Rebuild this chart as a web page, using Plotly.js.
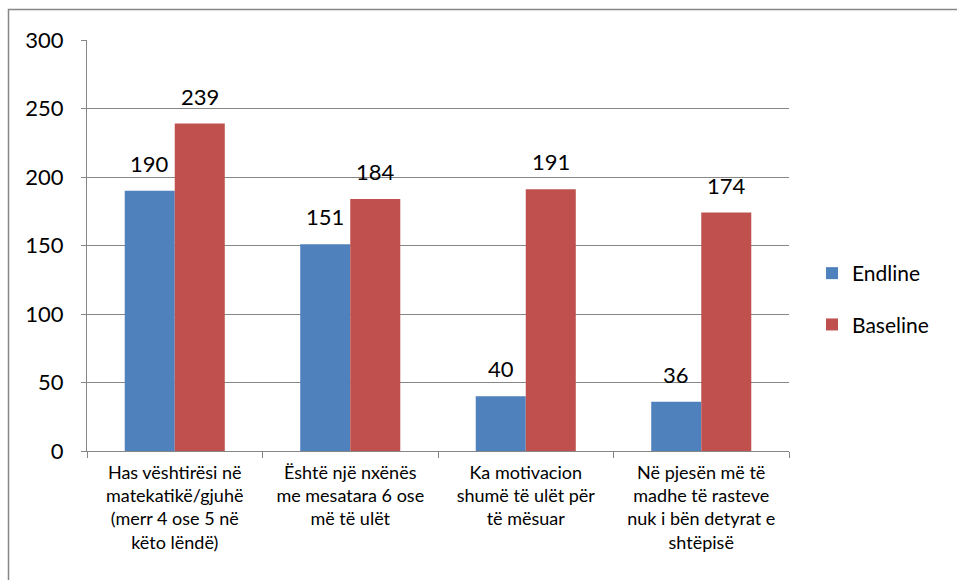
<!DOCTYPE html>
<html>
<head>
<meta charset="utf-8">
<script src="https://cdn.plot.ly/plotly-3.0.1.min.js"></script>
<style>
  html, body { margin: 0; padding: 0; background: #fff; }
  #chart { width: 957px; height: 580px; }
</style>
</head>
<body>
<div id="chart"></div>
<script>
const categories = [
  "Has vështirësi në<br>matekatikë/gjuhë<br>(merr 4 ose 5 në<br>këto lëndë)",
  "Është një nxënës<br>me mesatara 6 ose<br>më të ulët",
  "Ka motivacion<br>shumë të ulët për<br>të mësuar",
  "Në pjesën më të<br>madhe të rasteve<br>nuk i bën detyrat e<br>shtëpisë"
];
const endline = [190, 151, 40, 36];
const baseline = [239, 184, 191, 174];
const seriesNames = ["Endline", "Baseline"];
const seriesColors = ["#4F81BD", "#C0504D"];
const yTicks = [0, 50, 100, 150, 200, 250, 300];

const FONT = "Lato, 'Open Sans', sans-serif";
const W = 957, H = 580;
const M = { l: 87, r: 168, t: 40, b: 129 };
const plotW = W - M.l - M.r, plotH = H - M.t - M.b;
const bargap = 0.43;
const barPx = plotW / categories.length * (1 - bargap) / 2;

const series = [endline, baseline];
const traces = series.map((vals, i) => ({
  type: "bar",
  name: seriesNames[i],
  x: categories,
  y: vals,
  marker: { color: seriesColors[i], line: { width: 0 } },
  legendgroup: "g" + i,
  hoverinfo: "y"
}));

const annotations = [];
series.forEach((vals, i) => {
  vals.forEach((v, j) => {
    annotations.push({
      x: categories[j], y: v, xref: "x", yref: "y",
      text: String(v), showarrow: false,
      xanchor: "center", yanchor: "bottom",
      xshift: (i === 0 ? -1 : 1) * barPx / 2,
      yshift: 12,
      font: { family: FONT, size: 22, color: "#000" }
    });
  });
});

const px = x => (x - M.l) / plotW;
const py = y => (H - M.b - y) / plotH;

const layout = {
  width: W, height: H,
  margin: M,
  paper_bgcolor: "#fff", plot_bgcolor: "#fff",
  barmode: "group", bargap: bargap, bargroupgap: 0,
  font: { family: FONT, color: "#000" },
  showlegend: true,
  legend: {
    x: px(812), y: py(299), xanchor: "left", yanchor: "middle",
    traceorder: "grouped", tracegroupgap: 21,
    font: { family: FONT, size: 21, color: "#000" },
    bgcolor: "rgba(0,0,0,0)"
  },
  xaxis: {
    type: "category",
    showline: true, linecolor: "#868686", linewidth: 1,
    ticks: "outside", tickson: "boundaries", ticklen: 6, tickcolor: "#868686", tickwidth: 1,
    showgrid: false, zeroline: false,
    ticklabelstandoff: 5,
    tickfont: { family: FONT, size: 18, color: "#000" },
    fixedrange: true
  },
  yaxis: {
    range: [0, 300], tickmode: "array", tickvals: yTicks, ticktext: yTicks.map(String),
    showline: true, linecolor: "#868686", linewidth: 1,
    ticks: "outside", ticklen: 5, tickcolor: "#868686", tickwidth: 1,
    showgrid: true, gridcolor: "#868686", gridwidth: 1,
    zeroline: false,
    ticklabelstandoff: 13,
    tickfont: { family: FONT, size: 22, color: "#000" },
    fixedrange: true
  },
  annotations: annotations,
  shapes: [{
    type: "path", xref: "paper", yref: "paper",
    path: `M ${px(8.5)} ${py(600)} L ${px(8.5)} ${py(9.5)} L ${px(990)} ${py(9.5)}`,
    line: { color: "#868686", width: 1.5 }, layer: "above"
  }]
};

Plotly.newPlot("chart", traces, layout, { displayModeBar: false, staticPlot: true });
</script>
</body>
</html>
